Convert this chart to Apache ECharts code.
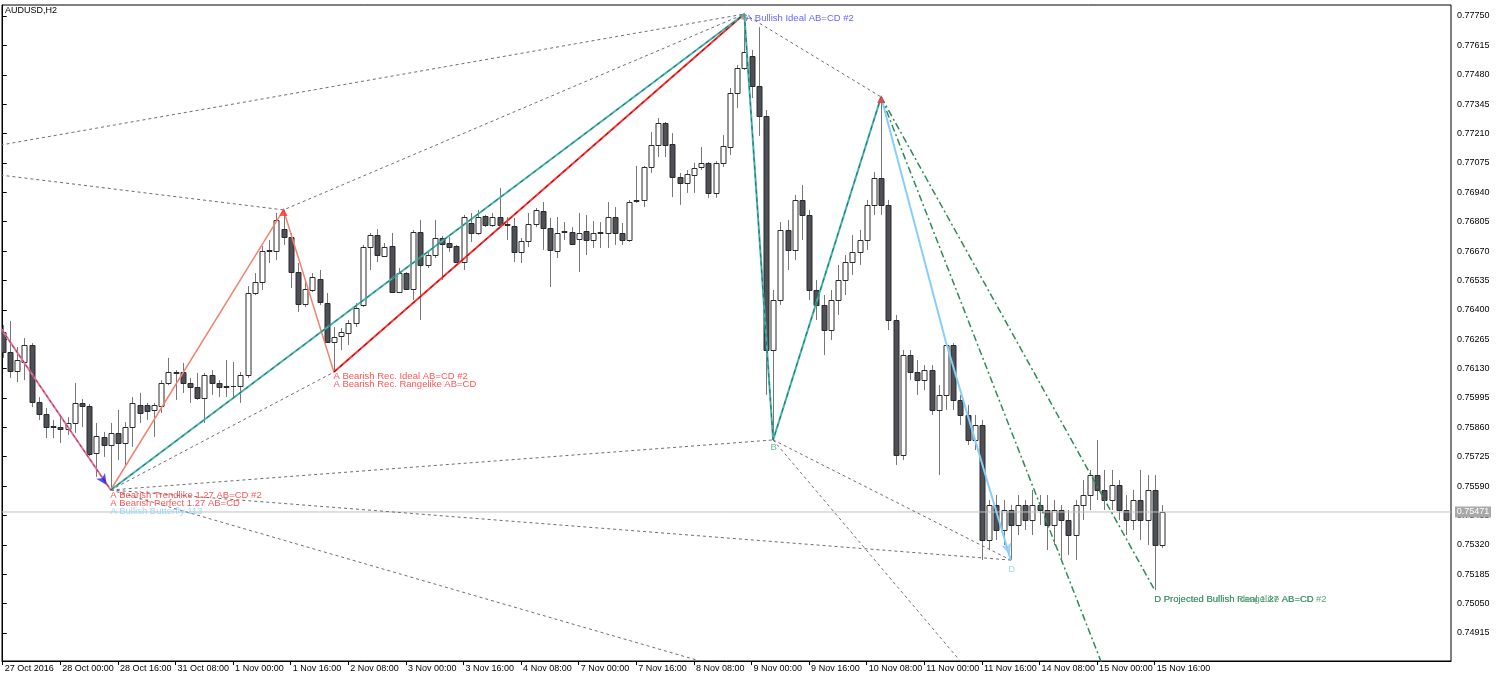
<!DOCTYPE html>
<html><head><meta charset="utf-8">
<script src="https://cdn.jsdelivr.net/npm/echarts@6/dist/echarts.min.js"></script>
<style>html,body{margin:0;padding:0;background:#fff}#c{width:1500px;height:681px}</style>
</head><body><div id="c"></div>
<script>
// ---------- data ----------
const tickLabels = ["27 Oct 2016","28 Oct 00:00","28 Oct 16:00","31 Oct 08:00","1 Nov 00:00","1 Nov 16:00","2 Nov 08:00","3 Nov 00:00","3 Nov 16:00","4 Nov 08:00","7 Nov 00:00","7 Nov 16:00","8 Nov 08:00","9 Nov 00:00","9 Nov 16:00","10 Nov 08:00","11 Nov 00:00","11 Nov 16:00","14 Nov 08:00","15 Nov 00:00","15 Nov 16:00"];
const barsPerTick = 8;
const yTicks = [0.74915,0.75050,0.75185,0.75320,0.75455,0.75590,0.75725,0.75860,0.75995,0.76130,0.76265,0.76400,0.76535,0.76670,0.76805,0.76940,0.77075,0.77210,0.77345,0.77480,0.77615,0.77750];
const lastPrice = 0.75471;

const open = [0.76298,0.76206,0.76119,0.76160,0.76238,0.75976,0.75921,0.75866,0.75861,0.75852,0.75880,0.75972,0.75958,0.75742,0.75816,0.75779,0.75834,0.75788,0.75861,0.75963,0.75963,0.75940,0.75958,0.76064,0.76114,0.76114,0.76064,0.76045,0.75995,0.76100,0.76064,0.76050,0.76048,0.76050,0.76100,0.76477,0.76528,0.76670,0.76670,0.76771,0.76735,0.76574,0.76427,0.76491,0.76542,0.76431,0.76252,0.76280,0.76293,0.76339,0.76422,0.76688,0.76744,0.76647,0.76693,0.76482,0.76569,0.76496,0.76758,0.76606,0.76652,0.76730,0.76707,0.76693,0.76620,0.76799,0.76753,0.76831,0.76790,0.76826,0.76790,0.76785,0.76666,0.76716,0.76794,0.76854,0.76776,0.76670,0.76758,0.76758,0.76725,0.76762,0.76721,0.76753,0.76753,0.76826,0.76753,0.76721,0.76900,0.76905,0.77056,0.77157,0.77258,0.77162,0.77010,0.76983,0.77019,0.77056,0.77075,0.76937,0.77075,0.77148,0.77396,0.77511,0.77566,0.77428,0.77291,0.76215,0.76445,0.76767,0.76675,0.76905,0.76836,0.76491,0.76422,0.76307,0.76445,0.76537,0.76620,0.76666,0.76721,0.76882,0.77006,0.76882,0.76353,0.75733,0.76192,0.76114,0.76077,0.76123,0.75940,0.76009,0.76238,0.75986,0.75917,0.75802,0.75871,0.75342,0.75503,0.75388,0.75480,0.75411,0.75503,0.75434,0.75503,0.75480,0.75411,0.75480,0.75434,0.75365,0.75503,0.75549,0.75641,0.75572,0.75526,0.75595,0.75480,0.75434,0.75526,0.75434,0.75572,0.75319];
const close = [0.76206,0.76119,0.76169,0.76238,0.75976,0.75921,0.75861,0.75861,0.75852,0.75880,0.75972,0.75958,0.75737,0.75820,0.75779,0.75834,0.75788,0.75861,0.75972,0.75926,0.75935,0.75963,0.76064,0.76114,0.76110,0.76064,0.76045,0.75995,0.76100,0.76064,0.76045,0.76047,0.76052,0.76100,0.76477,0.76528,0.76670,0.76675,0.76813,0.76735,0.76574,0.76427,0.76496,0.76551,0.76436,0.76252,0.76275,0.76298,0.76339,0.76408,0.76688,0.76744,0.76652,0.76688,0.76482,0.76569,0.76496,0.76758,0.76606,0.76652,0.76730,0.76702,0.76688,0.76620,0.76826,0.76753,0.76826,0.76790,0.76826,0.76790,0.76794,0.76666,0.76716,0.76794,0.76859,0.76776,0.76675,0.76753,0.76762,0.76702,0.76753,0.76721,0.76753,0.76758,0.76826,0.76753,0.76721,0.76895,0.76905,0.77056,0.77157,0.77258,0.77157,0.77010,0.76983,0.77024,0.77052,0.77075,0.76937,0.77075,0.77153,0.77396,0.77511,0.77585,0.77428,0.77291,0.76215,0.76445,0.76767,0.76675,0.76905,0.76836,0.76491,0.76422,0.76307,0.76445,0.76537,0.76620,0.76666,0.76721,0.76882,0.77006,0.76882,0.76353,0.75733,0.76192,0.76114,0.76077,0.76123,0.75940,0.76009,0.76238,0.75986,0.75917,0.75802,0.75871,0.75342,0.75503,0.75388,0.75480,0.75411,0.75503,0.75434,0.75503,0.75480,0.75411,0.75480,0.75434,0.75365,0.75503,0.75549,0.75641,0.75572,0.75526,0.75595,0.75480,0.75434,0.75526,0.75434,0.75572,0.75319,0.75471];
const high = [0.76330,0.76348,0.76229,0.76270,0.76247,0.75999,0.75949,0.75894,0.75907,0.75907,0.76064,0.75990,0.75967,0.75880,0.75839,0.75880,0.75940,0.75884,0.75999,0.76018,0.75972,0.75972,0.76077,0.76179,0.76123,0.76156,0.76087,0.76110,0.76110,0.76123,0.76077,0.76169,0.76160,0.76114,0.76509,0.76569,0.76693,0.76721,0.76845,0.76859,0.76753,0.76615,0.76537,0.76569,0.76583,0.76477,0.76321,0.76316,0.76353,0.76431,0.76698,0.76753,0.76771,0.76707,0.76753,0.76592,0.76574,0.76767,0.76813,0.76675,0.76813,0.76739,0.76735,0.76698,0.76836,0.76845,0.76859,0.76836,0.76845,0.76960,0.76826,0.76822,0.76730,0.76845,0.76868,0.76895,0.76822,0.76826,0.76803,0.76780,0.76845,0.76836,0.76808,0.76803,0.76895,0.76872,0.76799,0.76905,0.77061,0.77061,0.77217,0.77281,0.77263,0.77212,0.77029,0.77042,0.77075,0.77148,0.77079,0.77084,0.77203,0.77419,0.77525,0.77759,0.77594,0.77699,0.77318,0.76491,0.76803,0.76813,0.76928,0.76973,0.76859,0.76537,0.76468,0.76491,0.76606,0.76652,0.76744,0.76767,0.76905,0.77033,0.77378,0.76905,0.76376,0.76215,0.76215,0.76169,0.76146,0.76146,0.76054,0.76252,0.76247,0.76009,0.75963,0.75917,0.75894,0.75526,0.75549,0.75526,0.75503,0.75549,0.75526,0.75572,0.75549,0.75549,0.75526,0.75503,0.75480,0.75526,0.75618,0.75664,0.75802,0.75664,0.75664,0.75618,0.75549,0.75572,0.75664,0.75641,0.75641,0.75503];
const low = [0.76179,0.76087,0.76068,0.76077,0.75953,0.75894,0.75811,0.75811,0.75788,0.75825,0.75834,0.75861,0.75728,0.75632,0.75724,0.75572,0.75710,0.75687,0.75770,0.75880,0.75894,0.75816,0.75926,0.76054,0.75986,0.76018,0.75972,0.75986,0.75880,0.76009,0.75999,0.75999,0.75999,0.75972,0.76087,0.76468,0.76491,0.76615,0.76629,0.76698,0.76500,0.76390,0.76413,0.76482,0.76422,0.76247,0.76114,0.76215,0.76238,0.76321,0.76413,0.76583,0.76620,0.76643,0.76477,0.76477,0.76491,0.76445,0.76353,0.76592,0.76638,0.76537,0.76666,0.76615,0.76583,0.76712,0.76744,0.76780,0.76780,0.76780,0.76721,0.76620,0.76615,0.76688,0.76780,0.76675,0.76505,0.76638,0.76721,0.76698,0.76574,0.76652,0.76684,0.76684,0.76684,0.76698,0.76698,0.76712,0.76891,0.76872,0.77029,0.77102,0.77102,0.76918,0.76882,0.76937,0.76937,0.77042,0.76914,0.76914,0.77056,0.77111,0.77327,0.77502,0.77373,0.77199,0.76009,0.75802,0.76422,0.76583,0.76629,0.76721,0.76445,0.76353,0.76192,0.76261,0.76376,0.76468,0.76560,0.76606,0.76675,0.76836,0.76836,0.76307,0.75687,0.75710,0.76077,0.76009,0.76031,0.75917,0.75641,0.75940,0.75940,0.75871,0.75779,0.75756,0.75250,0.75296,0.75342,0.75319,0.75250,0.75365,0.75388,0.75365,0.75411,0.75296,0.75319,0.75250,0.75273,0.75250,0.75434,0.75480,0.75526,0.75480,0.75480,0.75434,0.75365,0.75388,0.75342,0.75319,0.75112,0.75305];

// pattern polylines: [bar index, price]
const pinkXA      = [[-1,0.76351],[15,0.75572]];
const salmonABC   = [[15,0.75572],[39,0.76859],[46,0.76114]];
const redCD       = [[46,0.76114],[103,0.77759]];
const tealAD      = [[15,0.75572],[103,0.77759]];
const greenABC    = [[103,0.77759],[107,0.75802],[122,0.77378]];
const projD1      = [[122,0.77378],[160,0.75112]];
const projD2      = [[122,0.77378],[160,0.74150]];
const lightBlueCD = [[122,0.77378],[131,0.76252],[140,0.75250]];
const grayLines = [
  [[-0.3,0.77157],[103,0.77759]],
  [[-0.3,0.77019],[39,0.76859],[103,0.77759]],
  [[15,0.75572],[46,0.76114]],
  [[15,0.75572],[107,0.75802]],
  [[15,0.75572],[140,0.75250]],
  [[15,0.75572],[110,0.74660]],
  [[103,0.77759],[122,0.77378]],
  [[107,0.75802],[140,0.75250]],
  [[107,0.75802],[140,0.74512]]
];
const noteAnchors = [[103,0.77759],[46,0.76114],[46,0.76114],[15,0.75572],[15,0.75572],[15,0.75572],[107,0.75802],[140,0.75250],[160,0.75112],[160,0.75112]];
const noteTexts = ["A Bullish Ideal AB=CD #2","A Bearish Rec. Ideal AB=CD #2","A Bearish Rec. Rangelike AB=CD","A Bearish Trendlike 1.27 AB=CD #2","A Bearish Perfect 1.27 AB=CD","A Bullish Butterfly 113","B","D","D Projected Bullish Rangelike AB=CD","D Projected Bullish Ideal 1.27 AB=CD #2"];

// ---------- styles ----------
const FONT = 'Liberation Sans, Arial, sans-serif';
const noteStyle = [
  {c:'#3a3aff',dx:2,dy:5},{c:'#ff2a2a',dx:0,dy:5},{c:'#ff2a2a',dx:0,dy:13},
  {c:'#ff2a2a',dx:0,dy:6},{c:'#ff2a2a',dx:0,dy:14},{c:'#87cefa',dx:0,dy:22},
  {c:'#3cb371',dx:-2,dy:8},{c:'#87cefa',dx:-2,dy:10},{c:'#2e8b57',dx:0,dy:10},{c:'#2e8b57',dx:0,dy:10}
];

const chart = echarts.init(document.getElementById('c'), null, {renderer:'canvas'});
const candleData = open.map((o,k)=>[k,o,close[k],low[k],high[k]]);
const tickIdx = tickLabels.map((_,k)=>k*barsPerTick);

function lineSeries(data, color, width, type, z){
  return {type:'line', data, symbol:'none', clip:true, silent:true, z:z||3,
    lineStyle:{color, width, type:type||'solid'}};
}

const series = [];
series.push({
  type:'custom', z:1, clip:true, silent:true, data:candleData,
  encode:{x:0, y:[1,2,3,4]},
  renderItem(params, api){
    const i=api.value(0), o=api.value(1), c=api.value(2), l=api.value(3), h=api.value(4);
    const pO=api.coord([i,o]), pC=api.coord([i,c]), pL=api.coord([i,l]), pH=api.coord([i,h]);
    const x=Math.round(pO[0])+0.5;
    const top=Math.round(Math.min(pO[1],pC[1]))+0.5, bot=Math.round(Math.max(pO[1],pC[1]))+0.5;
    return {type:'group', children:[
      {type:'line', shape:{x1:x,y1:pH[1],x2:x,y2:pL[1]}, style:{stroke:'#777', lineWidth:1}},
      {type:'rect', shape:{x:x-2.5,y:top,width:5,height:Math.max(bot-top,0)}, style:{fill:c>=o?'#ffffff':'#4d5057', stroke:'#2a2a2a', lineWidth:1}}
    ]};
  }
});
// current price line
series.push({type:'line', data:[[-0.1,lastPrice],[201.15,lastPrice]], symbol:'none', silent:true, z:2,
  lineStyle:{color:'#c0c0c0', width:1},
  markPoint:{silent:true, symbol:'rect', symbolSize:[36,11], symbolOffset:[22,0],
    itemStyle:{color:'#a9a9a9'},
    label:{show:true, formatter:lastPrice.toFixed(5), color:'#fff', fontSize:9, fontFamily:FONT},
    data:[{coord:[201.15,lastPrice]}]}
});
grayLines.forEach(g=>series.push(lineSeries(g,'#6e6e6e',1,[3,3],2)));
series.push(lineSeries(pinkXA,'#f07090',2,'solid',3));
series.push(lineSeries(pinkXA,'#7a3a8a',1,[3,3],4));
series.push(lineSeries(salmonABC,'#f4826f',1.5,'solid',3));
series.push(lineSeries(redCD,'#ff3333',2,'solid',3));
series.push(lineSeries(redCD,'#a00000',1,[4,4],4));
series.push(lineSeries(tealAD,'#40b4b4',2,'solid',3));
series.push(lineSeries(tealAD,'#2f6f4f',1,[4,4],4));
series.push(lineSeries(greenABC,'#40b4b4',2,'solid',3));
series.push(lineSeries(greenABC,'#2f6f4f',1,[4,4],4));
series.push(lineSeries(projD1,'#2e8b57',1.5,[7,3,2,3],3));
series.push(lineSeries(projD2,'#2e8b57',1.5,[7,3,2,3],3));
series.push(lineSeries(lightBlueCD,'#87cefa',2,'solid',3));

// markers
series.push({type:'scatter', silent:true, z:6, data:[
  {value:[15,0.75572], symbol:'arrow', symbolSize:[8,11], symbolRotate:-146, symbolOffset:[-4,-5], itemStyle:{color:'#2222ee'}},
  {value:[39,0.76859], symbol:'triangle', symbolSize:8, symbolOffset:[0,2], itemStyle:{color:'#ff3333'}},
  {value:[103,0.77759], symbol:'triangle', symbolSize:7, symbolOffset:[0,2], itemStyle:{color:'#7a9a8a'}},
  {value:[122,0.77378], symbol:'triangle', symbolSize:8, symbolOffset:[0,2], itemStyle:{color:'#ee3333'}},
  {value:[140,0.75250], symbol:'arrow', symbolSize:[8,12], symbolRotate:-163, symbolOffset:[-1,-5], itemStyle:{color:'#87cefa'}}
]});

// notes
series.push({type:'scatter', silent:true, z:7, symbolSize:1, itemStyle:{color:'rgba(0,0,0,0)'},
  data: noteAnchors.map((a,k)=>({value:a, label:{show:true, formatter:noteTexts[k], position:[noteStyle[k].dx, noteStyle[k].dy], align:'left', verticalAlign:'middle', color:noteStyle[k].c, fontSize:9.5, fontFamily:FONT}}))
});

chart.setOption({
  animation:false,
  backgroundColor:'#fff',
  title:{text:'AUDUSD,H2', left:5, top:6, padding:0, textStyle:{fontSize:9, fontWeight:'normal', color:'#000', fontFamily:FONT}},
  grid:{left:2, right:49, top:5, bottom:20, show:true, borderColor:'#000', borderWidth:1, backgroundColor:'#fff'},
  xAxis:{type:'value', min:-0.1, max:201.15, position:'bottom',
    axisLine:{show:true, onZero:false, lineStyle:{color:'#000'}},
    axisTick:{show:true, length:4, customValues:tickIdx, lineStyle:{color:'#000'}},
    axisLabel:{customValues:tickIdx, align:'left', margin:3, padding:[0,0,0,2], fontSize:9, color:'#000', fontFamily:FONT,
      formatter:v=>tickLabels[Math.round(v/barsPerTick)]||''},
    splitLine:{show:false}},
  yAxis:{type:'value', position:'right', min:0.747863, max:0.778005, scale:true,
    axisLine:{show:true, lineStyle:{color:'#000'}},
    axisTick:{show:true, length:4, customValues:yTicks, lineStyle:{color:'#000'}},
    axisLabel:{customValues:yTicks, margin:6, fontSize:9, color:'#000', fontFamily:FONT, formatter:v=>v.toFixed(5)},
    splitLine:{show:false}},
  series
});
</script></body></html>
